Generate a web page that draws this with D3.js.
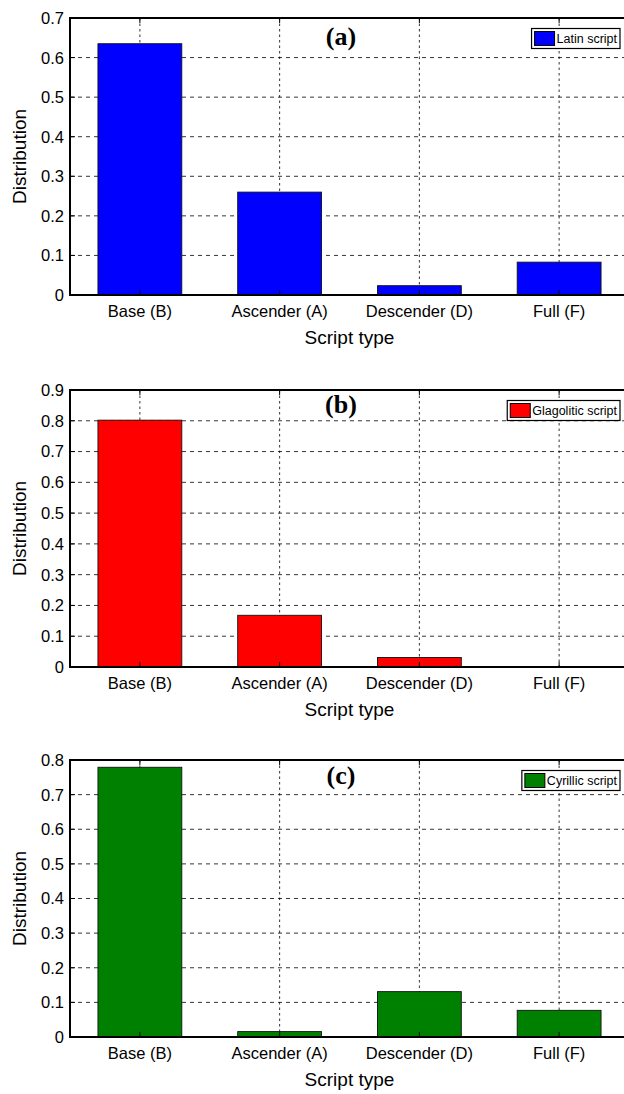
<!DOCTYPE html>
<html>
<head>
<meta charset="utf-8">
<script src="https://cdn.jsdelivr.net/npm/d3@7"></script>
<style>
  html, body { margin: 0; padding: 0; background: #fff; }
  svg { display: block; }
  .tick-label { font-family: "Liberation Sans", Arial, sans-serif; font-size: 16.5px; fill: #000; }
  .axis-title { font-family: "Liberation Sans", Arial, sans-serif; font-size: 19px; fill: #000; }
  .panel-title { font-family: "Liberation Serif", "Times New Roman", serif; font-size: 26px; font-weight: bold; fill: #000; }
  .legend-text { font-family: "Liberation Sans", Arial, sans-serif; font-size: 12.5px; fill: #000; }
</style>
</head>
<body>
<div id="chart"></div>
<script>
// data
const categories = ['Base (B)', 'Ascender (A)', 'Descender (D)', 'Full (F)'];
const latinValues = [0.635, 0.26, 0.0235, 0.083];
const glagoliticValues = [0.802, 0.168, 0.031, 0];
const cyrillicValues = [0.779, 0.0156, 0.131, 0.077];
const panelLabels = ['(a)', '(b)', '(c)'];
const seriesNames = ['Latin script', 'Glagolitic script', 'Cyrillic script'];
const yMaxes = [0.7, 0.9, 0.8];
const xLabel = 'Script type';
const yLabel = 'Distribution';

const W = 624, H = 1094;
const left = 70, right = 629;
const plotHeight = 277;

// layout of each subplot (top of the axes box, title baseline offset, colour)
const panels = [
  {values: latinValues, color: '#0000ff', top: 18, titleDy: 26.5},
  {values: glagoliticValues, color: '#ff0000', top: 390, titleDy: 22.8},
  {values: cyrillicValues, color: '#008000', top: 760, titleDy: 23.8}
];

const svg = d3.select('#chart')
  .append('svg')
  .attr('width', W)
  .attr('height', H);

const fmt = d => d === 0 ? '0' : d3.format('.1f')(d);

function drawPanel(p, i) {
  const g = svg.append('g');
  const bottom = p.top + plotHeight;

  // categories sit at 1..4 like a matlab bar plot
  const xscale = d3.scaleLinear().domain([0.5, categories.length + 0.5]).range([left, right]);
  const yscale = d3.scaleLinear().domain([0, yMaxes[i]]).range([bottom, p.top]);
  const yticks = d3.range(0, yMaxes[i] + 1e-9, 0.1).map(v => +v.toFixed(1));
  const barWidth = xscale(1.6) - xscale(1);

  // grid, behind bars
  g.selectAll('.hgrid')
    .data(yticks.filter(v => v > 0 && v < yMaxes[i]))
    .enter().append('line')
    .attr('x1', left).attr('x2', right)
    .attr('y1', d => yscale(d)).attr('y2', d => yscale(d))
    .attr('stroke', '#000').attr('stroke-width', 0.8)
    .attr('stroke-dasharray', '4,4');

  g.selectAll('.vgrid')
    .data(categories)
    .enter().append('line')
    .attr('x1', (d, k) => xscale(k + 1)).attr('x2', (d, k) => xscale(k + 1))
    .attr('y1', p.top).attr('y2', bottom)
    .attr('stroke', '#000').attr('stroke-width', 0.8)
    .attr('stroke-dasharray', '2.5,3');

  // bars
  g.selectAll('.bar')
    .data(p.values)
    .enter().append('rect')
    .attr('x', (d, k) => xscale(k + 1) - barWidth / 2)
    .attr('y', d => yscale(d))
    .attr('width', barWidth)
    .attr('height', d => bottom - yscale(d))
    .attr('fill', p.color)
    .attr('stroke', d => d > 0 ? '#111' : 'none')
    .attr('stroke-width', 0.9);

  // inward tick marks
  yticks.forEach(v => {
    g.append('line').attr('x1', left).attr('x2', left + 5)
      .attr('y1', yscale(v)).attr('y2', yscale(v)).attr('stroke', '#000');
  });
  categories.forEach((c, k) => {
    g.append('line').attr('x1', xscale(k + 1)).attr('x2', xscale(k + 1))
      .attr('y1', p.top).attr('y2', p.top + 5).attr('stroke', '#000');
    g.append('line').attr('x1', xscale(k + 1)).attr('x2', xscale(k + 1))
      .attr('y1', bottom).attr('y2', bottom - 5).attr('stroke', '#000');
  });

  // axes box
  g.append('rect')
    .attr('x', left).attr('y', p.top)
    .attr('width', right - left).attr('height', plotHeight)
    .attr('fill', 'none').attr('stroke', '#000').attr('stroke-width', 2);

  // tick labels
  g.selectAll('.ylab')
    .data(yticks)
    .enter().append('text')
    .attr('class', 'tick-label')
    .attr('x', left - 6)
    .attr('y', d => yscale(d))
    .attr('dy', '0.36em')
    .attr('text-anchor', 'end')
    .text(fmt);

  g.selectAll('.xlab')
    .data(categories)
    .enter().append('text')
    .attr('class', 'tick-label')
    .attr('x', (d, k) => xscale(k + 1))
    .attr('y', bottom + 21.5)
    .attr('text-anchor', 'middle')
    .text(d => d);

  // axis titles
  g.append('text')
    .attr('class', 'axis-title')
    .attr('x', (left + right) / 2)
    .attr('y', bottom + 48.5)
    .attr('text-anchor', 'middle')
    .text(xLabel);

  g.append('text')
    .attr('class', 'axis-title')
    .attr('transform', 'translate(26,' + (p.top + plotHeight / 2) + ') rotate(-90)')
    .attr('text-anchor', 'middle')
    .text(yLabel);

  // panel label
  g.append('text')
    .attr('class', 'panel-title')
    .attr('x', 341)
    .attr('y', p.top + p.titleDy)
    .attr('text-anchor', 'middle')
    .text(panelLabels[i]);

  // legend
  const legend = g.append('g');
  const box = legend.append('rect');
  const label = legend.append('text')
    .attr('class', 'legend-text')
    .text(seriesNames[i]);
  const textLen = label.node().getComputedTextLength();
  const boxW = textLen + 28;
  const boxRight = 620;
  const boxLeft = boxRight - boxW;
  const boxTop = p.top + 10.5;
  box.attr('x', boxLeft).attr('y', boxTop)
    .attr('width', boxW).attr('height', 20)
    .attr('fill', '#fff').attr('stroke', '#000').attr('stroke-width', 1.2);
  legend.append('rect')
    .attr('x', boxLeft + 3).attr('y', boxTop + 3)
    .attr('width', 20).attr('height', 14)
    .attr('fill', p.color).attr('stroke', '#000').attr('stroke-width', 1);
  label.attr('x', boxLeft + 25).attr('y', boxTop + 14.5);
}

panels.forEach(drawPanel);
</script>
</body>
</html>
